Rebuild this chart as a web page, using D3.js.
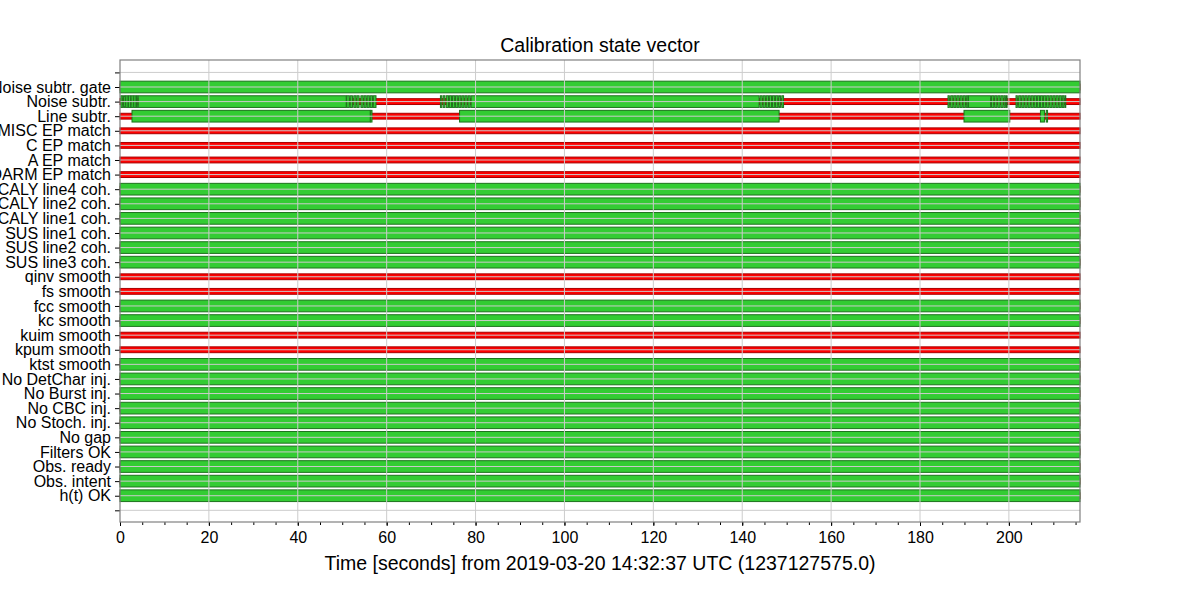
<!DOCTYPE html>
<html>
<head>
<meta charset="utf-8">
<script src="https://cdn.jsdelivr.net/npm/d3@7"></script>
<style>
	body { margin: 0; background: #fff; }
	svg { font-family: "Liberation Sans", Arial, Helvetica, sans-serif; }
</style>
</head>
<body>
<div id="chart"></div>
<script>
var width = 1200,
	height = 600,
	margin = { top: 60, right: 120, bottom: 78, left: 120 };

// flag names, top row first
var rowLabels = [
	"Noise subtr. gate", "Noise subtr.", "Line subtr.",
	"MISC EP match", "C EP match", "A EP match", "DARM EP match",
	"PCALY line4 coh.", "PCALY line2 coh.", "PCALY line1 coh.",
	"SUS line1 coh.", "SUS line2 coh.", "SUS line3 coh.",
	"qinv smooth", "fs smooth", "fcc smooth", "kc smooth",
	"kuim smooth", "kpum smooth", "ktst smooth",
	"No DetChar inj.", "No Burst inj.", "No CBC inj.", "No Stoch. inj.",
	"No gap", "Filters OK", "Obs. ready", "Obs. intent", "h(t) OK"
];

// known span of every flag (seconds from start)
var knownSpan = [0, 216];

// flags that are active over the whole span
var alwaysOn = [
	"Noise subtr. gate",
	"PCALY line4 coh.", "PCALY line2 coh.", "PCALY line1 coh.",
	"SUS line1 coh.", "SUS line2 coh.", "SUS line3 coh.",
	"fcc smooth", "kc smooth", "ktst smooth",
	"No DetChar inj.", "No Burst inj.", "No CBC inj.", "No Stoch. inj.",
	"No gap", "Filters OK", "Obs. ready", "Obs. intent", "h(t) OK"
];

// flags that are never active
var alwaysOff = [
	"MISC EP match", "C EP match", "A EP match", "DARM EP match",
	"qinv smooth", "fs smooth", "kuim smooth", "kpum smooth"
];

// active segments for the flags that flip
var noiseSubtrSegments = [
	[0.2, 0.6], [0.8, 1.2], [1.3, 1.8], [1.9, 2.4], [2.5, 3.0], [3.1, 3.6], [3.7, 4.0],
	[4.1, 50.9],
	[51.0, 51.6], [51.8, 52.3], [52.6, 53.1], [53.3, 53.8], [54.2, 54.7],
	[54.9, 55.4], [55.6, 56.1], [56.3, 56.8], [57.0, 57.6],
	[72.1, 72.4], [72.7, 73.1], [73.4, 73.9], [74.1, 74.6], [74.8, 75.3],
	[75.5, 76.0], [76.2, 76.7], [76.9, 77.4], [77.6, 78.1], [78.3, 78.8],
	[79.0, 143.8],
	[144.0, 144.5], [144.7, 145.2], [145.4, 145.9], [146.1, 146.6],
	[146.8, 147.3], [147.5, 148.0], [148.2, 148.6], [148.9, 149.3],
	[186.3, 186.6], [186.9, 187.4], [187.6, 188.1], [188.3, 188.8],
	[189.0, 189.5], [189.7, 190.2], [190.4, 190.8],
	[190.9, 195.9],
	[196.1, 196.6], [196.8, 197.3], [197.5, 198.0], [198.2, 198.7],
	[198.9, 199.2], [199.4, 199.6],
	[201.6, 201.9], [202.2, 202.7], [202.9, 203.4], [203.6, 204.1],
	[204.3, 204.8], [205.0, 205.5], [205.7, 206.2], [206.4, 206.9],
	[207.1, 207.6], [207.8, 208.3], [208.5, 209.0], [209.2, 209.7],
	[209.9, 210.4], [210.6, 211.1], [211.3, 211.8], [212.0, 212.4], [212.6, 212.8]
];

var lineSubtrSegments = [
	[2.7, 56.3], [56.4, 56.7],
	[76.4, 148.3],
	[189.9, 200.2],
	[207.1, 208.0], [208.4, 208.7]
];

var xMajorTicks = [0, 20, 40, 60, 80, 100, 120, 140, 160, 180, 200];
var xMinorTicks = d3.range(0, 216, 5);

var titleText = "Calibration state vector";
var xLabelText = "Time [seconds] from 2019-03-20 14:32:37 UTC (1237127575.0)";

/* ------- SCALES -------*/

var x = d3.scaleLinear()
	.domain(knownSpan)
	.range([margin.left, width - margin.right]);

// row index: bottom flag = 0, blank rows at -1 and rowLabels.length
var nRows = rowLabels.length;
var y = d3.scaleLinear()
	.domain([-1.8, nRows + 0.85])
	.range([height - margin.bottom, margin.top]);

function rowIndex(name) {
	return nRows - 1 - rowLabels.indexOf(name);
}

var activeHeight = 0.8,
	knownHeight = 0.4;

// table of rows built from the arrays above
var rows = rowLabels.map(function (name) {
	var active;
	if (alwaysOn.indexOf(name) >= 0) active = [knownSpan];
	else if (alwaysOff.indexOf(name) >= 0) active = [];
	else if (name == "Noise subtr.") active = noiseSubtrSegments;
	else if (name == "Line subtr.") active = lineSubtrSegments;
	else active = [];
	return { name: name, idx: rowIndex(name), known: [knownSpan], active: active };
});

var svg = d3.select("#chart")
	.append("svg")
	.attr("width", width)
	.attr("height", height);

/* ------- KNOWN (RED) -------*/

var knownData = [];
var activeData = [];
rows.forEach(function (r) {
	r.known.forEach(function (s) { knownData.push({ idx: r.idx, seg: s }); });
	r.active.forEach(function (s) { activeData.push({ idx: r.idx, seg: s }); });
});

var unit = Math.abs(y(0) - y(1));

svg.append("g")
	.attr("class", "known")
	.selectAll("rect")
	.data(knownData)
	.enter()
	.append("rect")
	.attr("x", function (d) { return x(d.seg[0]); })
	.attr("width", function (d) { return x(d.seg[1]) - x(d.seg[0]); })
	.attr("y", function (d) { return y(d.idx) - unit * knownHeight / 2; })
	.attr("height", unit * knownHeight)
	.attr("fill", "#ff0000")
	.attr("stroke", "#a80000")
	.attr("stroke-width", 1);

/* ------- ACTIVE (GREEN) -------*/

svg.append("g")
	.attr("class", "active")
	.selectAll("rect")
	.data(activeData)
	.enter()
	.append("rect")
	.attr("x", function (d) { return x(d.seg[0]); })
	.attr("width", function (d) { return Math.max(0.5, x(d.seg[1]) - x(d.seg[0])); })
	.attr("y", function (d) { return y(d.idx) - unit * activeHeight / 2; })
	.attr("height", unit * activeHeight)
	.attr("fill", "#33cc33")
	.attr("stroke", "#1d731d")
	.attr("stroke-width", 1);

/* ------- GRID -------*/

var yTickVals = d3.range(-1, nRows + 1);

svg.append("g")
	.attr("class", "grid")
	.selectAll("line.v")
	.data(xMajorTicks.slice(1))
	.enter()
	.append("line")
	.attr("x1", function (d) { return x(d); })
	.attr("x2", function (d) { return x(d); })
	.attr("y1", margin.top)
	.attr("y2", height - margin.bottom)
	.attr("stroke", "#cccccc")
	.attr("stroke-width", 1);

svg.select(".grid")
	.selectAll("line.h")
	.data(yTickVals)
	.enter()
	.append("line")
	.attr("x1", margin.left)
	.attr("x2", width - margin.right)
	.attr("y1", function (d) { return y(d); })
	.attr("y2", function (d) { return y(d); })
	.attr("stroke", "#cccccc")
	.attr("stroke-width", 1);

/* ------- AXES -------*/

var xAxis = svg.append("g")
	.attr("transform", "translate(0," + (height - margin.bottom) + ")")
	.call(d3.axisBottom(x).tickValues(xMajorTicks).tickSize(4).tickPadding(6).tickFormat(d3.format("d")));

svg.append("g")
	.attr("transform", "translate(0," + (height - margin.bottom) + ")")
	.call(d3.axisBottom(x).tickValues(xMinorTicks).tickSize(3).tickFormat(""))
	.select(".domain").remove();

var yAxis = svg.append("g")
	.attr("transform", "translate(" + margin.left + ",0)")
	.call(d3.axisLeft(y).tickValues(yTickVals).tickSize(5).tickPadding(4)
		.tickFormat(function (d) { return d < 0 || d >= nRows ? "" : rowLabels[nRows - 1 - d]; }));

[xAxis, yAxis].forEach(function (a) {
	a.select(".domain").remove();
	a.selectAll("text")
		.attr("fill", "#000")
		.style("font-size", "16px")
		.style("font-family", "'Liberation Sans', Arial, sans-serif");
	a.selectAll(".tick line").attr("stroke", "#000");
});

// frame
svg.append("rect")
	.attr("x", margin.left)
	.attr("y", margin.top)
	.attr("width", width - margin.left - margin.right)
	.attr("height", height - margin.top - margin.bottom)
	.attr("fill", "none")
	.attr("stroke", "#808080")
	.attr("stroke-width", 1.2);

/* ------- TITLES -------*/

svg.append("text")
	.attr("x", (margin.left + width - margin.right) / 2)
	.attr("y", 52)
	.attr("text-anchor", "middle")
	.style("font-size", "19.5px")
	.text(titleText);

svg.append("text")
	.attr("x", (margin.left + width - margin.right) / 2)
	.attr("y", 570)
	.attr("text-anchor", "middle")
	.style("font-size", "19.5px")
	.text(xLabelText);
</script>
</body>
</html>
